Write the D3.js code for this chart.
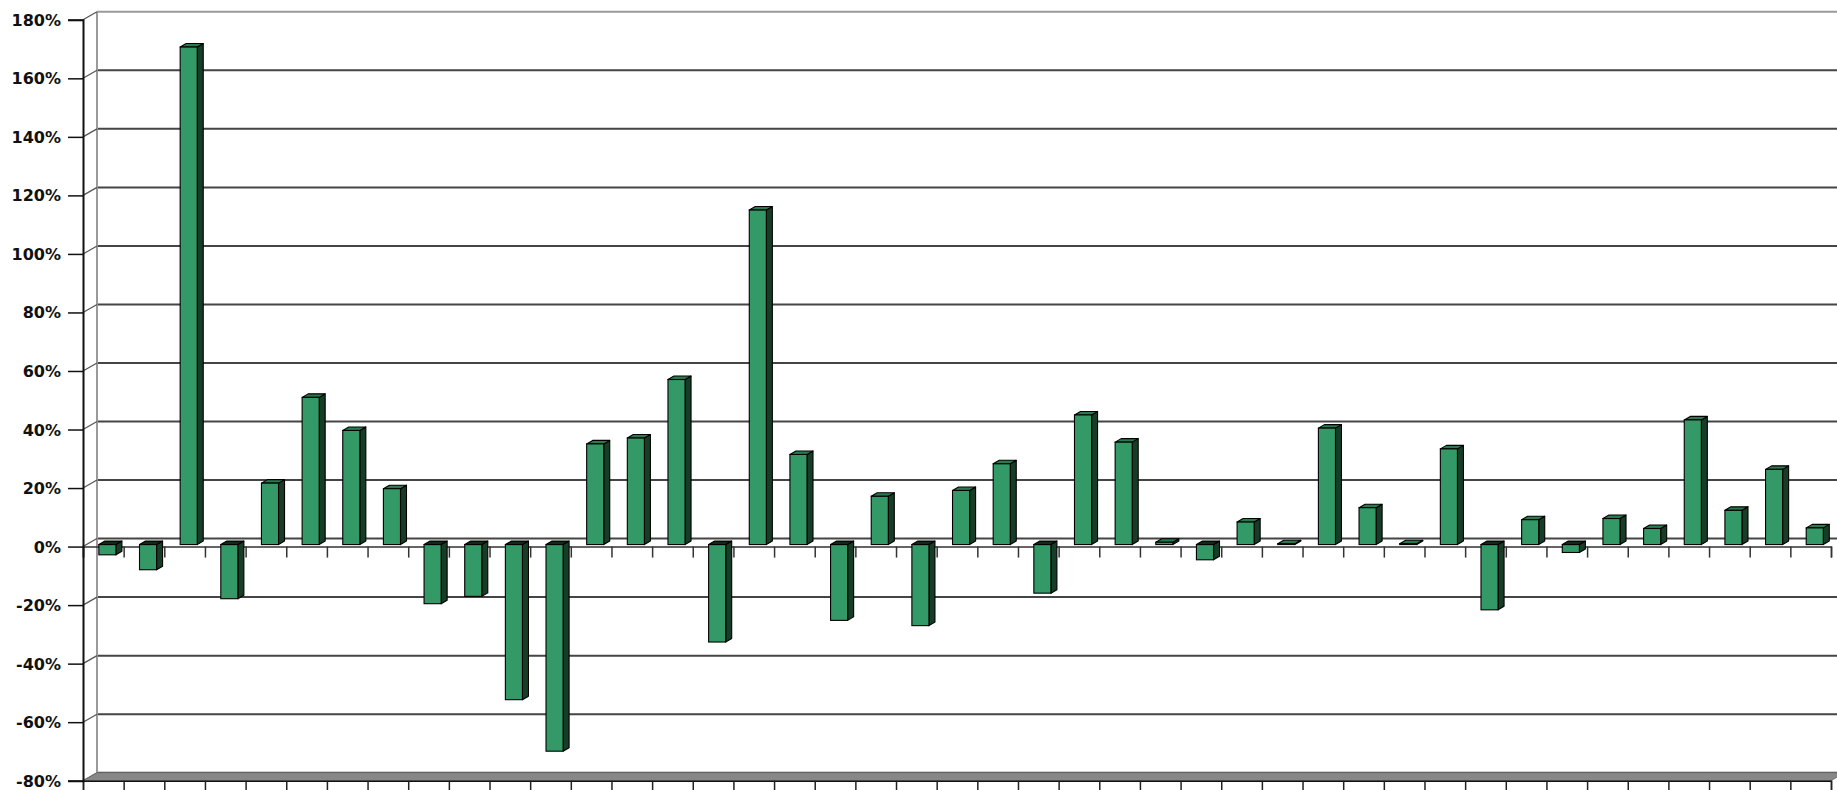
<!DOCTYPE html>
<html>
<head>
<meta charset="utf-8">
<script src="https://cdn.jsdelivr.net/npm/d3@7"></script>
<style>
  html, body { margin: 0; padding: 0; background: #ffffff; }
  svg { display: block; }
</style>
</head>
<body>
<svg id="chart" width="1837" height="790"></svg>
<script>
// ---- data ----
const values = [-3.5, -8.6, 170, -18.5, 21, 50.3, 39, 19.1, -20.2, -17.7, -53, -70.6,
  34.4, 36.4, 56.4, -33.3, 114.3, 30.8, -25.9, 16.5, -27.7, 18.5, 27.6, -16.6,
  44.3, 35, 0.8, -5.2, 7.7, 0.3, 39.8, 12.6, 0.3, 32.7, -22.3, 8.5, -2.7,
  8.9, 5.5, 42.6, 11.7, 25.7, 5.7];
const yTicks = [-80, -60, -40, -20, 0, 20, 40, 60, 80, 100, 120, 140, 160, 180];

// ---- layout ----
const W = 1837, H = 790;
const axisX = 83, rightX = 1831;
const depthDX = 14, depthDY = -8;      // front -> back wall offset
const barDX = 6, barDY = -3.5;         // bar depth
const svg = d3.select('#chart');

const y = d3.scaleLinear().domain([-80, 180]).range([780.7, 19.8]);
const x = d3.scaleBand().domain(d3.range(values.length)).range([axisX, rightX]).padding(0);
const xEdge = d3.scaleLinear().domain([0, values.length]).range([axisX, rightX]);

// back wall gridlines
svg.append('g').selectAll('line').data(yTicks).join('line')
  .attr('x1', axisX + depthDX).attr('x2', W + 20)
  .attr('y1', d => y(d) + depthDY).attr('y2', d => y(d) + depthDY)
  .attr('stroke', d => d === 180 ? '#9a9a9a' : '#454545')
  .attr('stroke-width', 2);

// left wall edge
svg.append('line')
  .attr('x1', axisX + depthDX).attr('x2', axisX + depthDX)
  .attr('y1', y(180) + depthDY).attr('y2', y(-80) + depthDY)
  .attr('stroke', '#9a9a9a').attr('stroke-width', 2);

// side wall diagonals
svg.append('g').selectAll('line').data(yTicks).join('line')
  .attr('x1', axisX).attr('x2', axisX + depthDX)
  .attr('y1', d => y(d)).attr('y2', d => y(d) + depthDY)
  .attr('stroke', '#555').attr('stroke-width', 1.2);

// floor
svg.append('polygon')
  .attr('points', [[axisX, y(-80)], [axisX + depthDX, y(-80) + depthDY],
    [rightX + depthDX, y(-80) + depthDY], [rightX, y(-80)]].map(p => p.join(',')).join(' '))
  .attr('fill', '#878787').attr('stroke', '#6a6a6a').attr('stroke-width', 0.8);

// category axis at 0 (front plane)
const zeroAxis = svg.append('g').attr('transform', `translate(0,${y(0)})`)
  .call(d3.axisBottom(xEdge).tickValues(d3.range(values.length + 1)).tickSize(11).tickFormat(''));
zeroAxis.select('.domain').attr('stroke', '#333').attr('stroke-width', 1.5);
zeroAxis.selectAll('.tick line').attr('stroke', '#333').attr('stroke-width', 1.5);

// bottom category axis
const botAxis = svg.append('g').attr('transform', `translate(0,${y(-80)})`)
  .call(d3.axisBottom(xEdge).tickValues(d3.range(values.length + 1)).tickSize(12).tickFormat(''));
botAxis.select('.domain').attr('stroke', '#111').attr('stroke-width', 1.5);
botAxis.selectAll('.tick line').attr('stroke', '#222').attr('stroke-width', 1.5);

// bars
const bw = x.bandwidth();
const faceW = bw * 0.42;
const yb = v => y(v) - 2;
const bars = svg.append('g');
values.forEach((v, i) => {
  const x0 = x(i) + bw * 0.39;
  const yTop = Math.min(yb(v), yb(0));
  const yBot = Math.max(yb(v), yb(0));
  const g = bars.append('g');
  // side
  g.append('polygon')
    .attr('points', [[x0 + faceW, yTop], [x0 + faceW + barDX, yTop + barDY],
      [x0 + faceW + barDX, yBot + barDY], [x0 + faceW, yBot]].map(p => p.join(',')).join(' '))
    .attr('fill', '#173d27').attr('stroke', '#000').attr('stroke-width', 1.1).attr('stroke-linejoin', 'round');
  // top
  g.append('polygon')
    .attr('points', [[x0, yTop], [x0 + barDX, yTop + barDY],
      [x0 + faceW + barDX, yTop + barDY], [x0 + faceW, yTop]].map(p => p.join(',')).join(' '))
    .attr('fill', v >= 0 ? '#2a7a4f' : '#0e2a1a').attr('stroke', '#000').attr('stroke-width', 1.1).attr('stroke-linejoin', 'round');
  // front
  g.append('rect')
    .attr('x', x0).attr('y', yTop).attr('width', faceW).attr('height', Math.max(yBot - yTop, 0.5))
    .attr('fill', '#339966').attr('stroke', '#000').attr('stroke-width', 1.1);
});

// value axis
const yAxis = svg.append('g').attr('transform', `translate(${axisX},0)`)
  .call(d3.axisLeft(y).tickValues(yTicks).tickSize(15).tickPadding(7).tickFormat(d => d + '%'));
yAxis.select('.domain').attr('stroke', '#111').attr('stroke-width', 2);
yAxis.selectAll('.tick line').attr('stroke', '#111').attr('stroke-width', 1.5);
yAxis.selectAll('.tick text')
  .attr('font-family', '"DejaVu Sans", Verdana, sans-serif')
  .attr('font-weight', 'bold').attr('font-size', 16).attr('fill', '#111')
  .attr('dy', null).attr('dominant-baseline', 'central');
</script>
</body>
</html>
